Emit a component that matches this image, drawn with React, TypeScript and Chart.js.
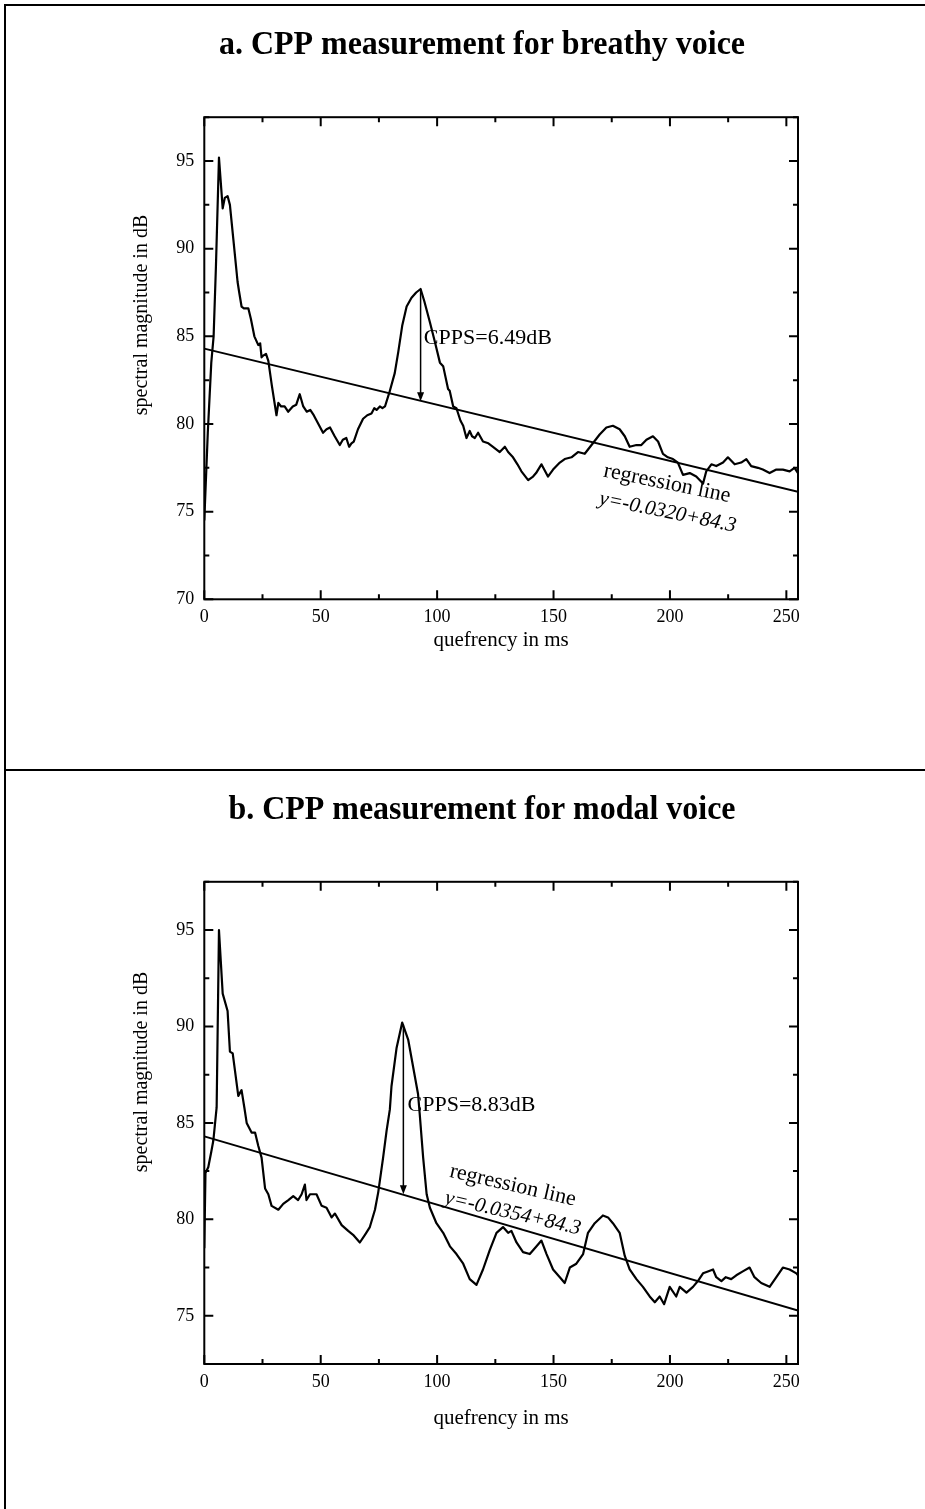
import { useEffect, useRef } from "react";
import { Chart, registerables } from "chart.js";

Chart.register(...registerables);

const FONT = "'Liberation Serif', 'Times New Roman', serif";

// ---------- data ----------
const xTickLabels = [0, 50, 100, 150, 200, 250];
const yTickLabelsA = [70, 75, 80, 85, 90, 95];
const yTickLabelsB = [75, 80, 85, 90, 95];

const breathyQuefrency = [
  0, 1.5, 3, 4, 5, 6.3, 7.9, 8.8, 10, 11, 12.5, 14.3, 15, 16, 17, 18.9, 20, 21.5, 23.2, 24, 24.6, 25.3, 26.5,
  27.5, 29, 31, 31.8, 33, 34.5, 36, 38, 39.5, 41, 42.5, 44, 45.5, 47, 49, 51, 52.5, 54, 56, 58.2, 59.5, 61, 62.2,
  63.2, 64.2, 66, 68.2, 70, 71.8, 73, 74, 75.4, 76.5, 77.6, 79.5, 81.8, 83.3, 85, 86.9, 89, 91, 92.9, 94.5, 96.9,
  99, 101.2, 102.6, 104.7, 105.4, 106.9, 108.3, 110, 111.2, 112.6, 114, 115, 116.2, 117.6, 119.7, 122, 124,
  126.9, 129.1, 130.5, 132.6, 134.5, 136.2, 139.1, 141.2, 142.5, 144.8, 147.6, 149.8, 152.7, 154.8, 157.7,
  160.5, 163.4, 166.9, 169.8, 172.7, 175.5, 178.4, 180.6, 182.7, 185.6, 187.7, 189.9, 192.7, 194.9, 197,
  199.1, 201.3, 203.4, 205.6, 208.5, 211.3, 214.2, 215.6, 217.8, 219.9, 222.8, 224.9, 227.8, 230.6, 232.8,
  234.9, 237.8, 239.9, 242.8, 245.7, 248.5, 251.4, 253.5, 255,
];
const breathyMagnitude = [
  74.5, 79.5, 83.5, 85.0, 89, 95.2, 92.3, 92.9, 93.0, 92.5, 90.5, 88.1, 87.5, 86.7, 86.6, 86.6, 86, 85.0, 84.5,
  84.6, 83.8, 83.9, 84.0, 83.6, 82.2, 80.5, 81.2, 81.0, 81.0, 80.7, 81.0, 81.1, 81.7, 81.0, 80.7, 80.8, 80.5,
  80.0, 79.5, 79.7, 79.8, 79.3, 78.8, 79.1, 79.2, 78.7, 78.9, 79.0, 79.7, 80.3, 80.5, 80.6, 80.9, 80.8, 81.0,
  80.9, 81.0, 81.8, 82.9, 84.1, 85.6, 86.7, 87.2, 87.5, 87.7, 87.0, 85.8, 84.7, 83.5, 83.3, 82.0, 81.9, 81.0,
  80.9, 80.2, 79.9, 79.2, 79.6, 79.3, 79.2, 79.5, 79.0, 78.9, 78.7, 78.4, 78.7, 78.4, 78.1, 77.7, 77.3, 76.8,
  77.0, 77.2, 77.7, 77.0, 77.4, 77.8, 78.0, 78.1, 78.4, 78.3, 78.9, 79.4, 79.8, 79.9, 79.7, 79.3, 78.7, 78.8,
  78.8, 79.1, 79.3, 79.0, 78.3, 78.1, 78.0, 77.8, 77.1, 77.2, 77.0, 76.6, 77.3, 77.7, 77.6, 77.8, 78.1, 77.7,
  77.8, 78.0, 77.6, 77.5, 77.4, 77.2, 77.4, 77.4, 77.3, 77.5, 77.2,
];

const modalQuefrency = [
  0, 0.5, 1.7, 3, 3.9, 5.3, 6.3, 7.9, 10, 11, 12.2, 14.6, 16, 17.2, 18.2, 20.3, 21.8, 23.2, 24.6, 26.1, 27.5,
  28.9, 31.8, 33.9, 36.1, 38.2, 40.3, 41.8, 43.2, 43.9, 45.4, 48.2, 50.4, 52.5, 54.7, 56.1, 59, 61.8, 63.9,
  66.8, 69, 71.1, 73.3, 74.7, 76.8, 78.3, 79.7, 80.4, 82.6, 85, 87.6, 89.7, 91.8, 92.5, 94, 95.5, 96.9, 99.7,
  102.6, 105.5, 108.3, 111.2, 114, 116.9, 119.7, 122.6, 125.5, 128.3, 130.5, 131.9, 134.1, 136.9, 139.8,
  142.7, 144.8, 147, 149.8, 152.7, 154.8, 157, 159.8, 162.7, 164.8, 167.7, 171.2, 173.4, 175.5, 178.4, 180.6,
  182.7, 185.6, 188.4, 191.3, 193.5, 195.6, 197.5, 199.9, 202.7, 204.2, 207.1, 209.9, 212, 214.2, 216.3,
  218.5, 219.9, 222.1, 224, 226.3, 228.5, 231.3, 234.2, 236.3, 239.2, 242.8, 245.7, 248.5, 251.4, 254.3, 255,
];
const modalMagnitude = [
  78.5, 82.4, 82.7, 83.5, 84.1, 85.8, 95.0, 91.7, 90.8, 88.7, 88.6, 86.4, 86.7, 85.8, 85.0, 84.5, 84.5, 83.8,
  83.2, 81.6, 81.3, 80.7, 80.5, 80.8, 81.0, 81.2, 81.0, 81.3, 81.8, 81.0, 81.3, 81.3, 80.7, 80.6, 80.1, 80.3,
  79.7, 79.4, 79.2, 78.8, 79.2, 79.6, 80.5, 81.4, 83.2, 84.6, 85.7, 86.9, 88.9, 90.2, 89.3, 87.9, 86.5, 85.5,
  83.2, 81.3, 80.6, 79.8, 79.3, 78.6, 78.2, 77.7, 76.9, 76.6, 77.4, 78.4, 79.3, 79.6, 79.3, 79.4, 78.8, 78.3,
  78.2, 78.6, 78.9, 78.2, 77.4, 77.0, 76.7, 77.5, 77.7, 78.2, 79.3, 79.8, 80.2, 80.1, 79.8, 79.3, 78.1, 77.4,
  76.9, 76.5, 76.0, 75.7, 76.0, 75.6, 76.5, 76.0, 76.5, 76.2, 76.5, 76.8, 77.2, 77.3, 77.4, 77.0, 76.8, 77.0,
  76.9, 77.1, 77.3, 77.5, 77.0, 76.7, 76.5, 77.0, 77.5, 77.4, 77.2, 77.1,
];

// regression lines (end points at 0 and 255 ms)
const fitQuefrency = [0, 255];
const breathyFit = [84.3, 76.14];
const modalFit = [84.3, 75.27];

// CPPS arrows: [quefrency, peak dB, regression dB]
const breathyCpps = [92.9, 87.7, 81.3];
const modalCpps = [85.5, 90.1, 81.3];

// ---------- panels ----------
type Panel = {
  top: number;
  height: number;
  area: { top: number; left: number; right: number; bottom: number };
  yMin: number;
  yMax: number;
  yTicks: number[];
  title: string;
  titleY: number;
  yTitleY: number;
  xTitleOffset: number;
  q: number[];
  db: number[];
  fit: number[];
  cpps: number[];
  cppsText: string;
  cppsAt: [number, number];
  regText: string;
  regAt1: [number, number];
  regAt2: [number, number];
  regAngle: number;
};

const panels: Panel[] = [
  {
    top: 0,
    height: 770,
    area: { top: 117.2, left: 204.3, right: 798, bottom: 599.3 },
    yMin: 70,
    yMax: 97.5,
    yTicks: yTickLabelsA,
    title: "a. CPP measurement for breathy voice",
    titleY: 45,
    yTitleY: 315,
    xTitleOffset: 130,
    q: breathyQuefrency,
    db: breathyMagnitude,
    fit: breathyFit,
    cpps: breathyCpps,
    cppsText: "CPPS=6.49dB",
    cppsAt: [94.3, 84.9],
    regText: "y=-0.0320+84.3",
    regAt1: [198.8, 76.6],
    regAt2: [199, 74.95],
    regAngle: 11.5,
  },
  {
    top: 770,
    height: 739,
    area: { top: 111.8, left: 204.3, right: 798, bottom: 594 },
    yMin: 72.5,
    yMax: 97.5,
    yTicks: yTickLabelsB,
    title: "b. CPP measurement for modal voice",
    titleY: 40,
    yTitleY: 302,
    xTitleOffset: 91,
    q: modalQuefrency,
    db: modalMagnitude,
    fit: modalFit,
    cpps: modalCpps,
    cppsText: "CPPS=8.83dB",
    cppsAt: [87.3, 85.93],
    regText: "y=-0.0354+84.3",
    regAt1: [132.5, 81.75],
    regAt2: [132.5, 80.3],
    regAngle: 13,
  },
];

const W = 925;

const annotPlugin = {
  id: "annot",
  afterDatasetsDraw(chart: any, _args: any, opts: any) {
    const p: Panel = opts.panel;
    const { ctx, chartArea: a } = chart;
    const xs = chart.scales.x;
    const ys = chart.scales.y;
    ctx.save();
    ctx.strokeStyle = "#000";
    ctx.fillStyle = "#000";

    // frame
    ctx.lineWidth = 2;
    ctx.strokeRect(a.left, a.top, a.right - a.left, a.bottom - a.top);

    // inward ticks on all four sides
    ctx.beginPath();
    for (let v = 0; v <= xs.max + 0.001; v += 25) {
      const px = xs.getPixelForValue(v);
      const len = v % 50 === 0 ? 9 : 5;
      ctx.moveTo(px, a.bottom);
      ctx.lineTo(px, a.bottom - len);
      ctx.moveTo(px, a.top);
      ctx.lineTo(px, a.top + len);
    }
    for (let v = p.yMin; v <= p.yMax + 0.001; v += 2.5) {
      const py = ys.getPixelForValue(v);
      const len = v % 5 === 0 ? 9 : 5;
      ctx.moveTo(a.left, py);
      ctx.lineTo(a.left + len, py);
      ctx.moveTo(a.right, py);
      ctx.lineTo(a.right - len, py);
    }
    ctx.stroke();

    // CPPS arrow
    const ax = xs.getPixelForValue(p.cpps[0]);
    const ay1 = ys.getPixelForValue(p.cpps[1]);
    const ay2 = ys.getPixelForValue(p.cpps[2]);
    ctx.lineWidth = 1.5;
    ctx.beginPath();
    ctx.moveTo(ax, ay1);
    ctx.lineTo(ax, ay2 - 6);
    ctx.stroke();
    ctx.beginPath();
    ctx.moveTo(ax - 3.5, ay2 - 9);
    ctx.lineTo(ax + 3.5, ay2 - 9);
    ctx.lineTo(ax, ay2);
    ctx.closePath();
    ctx.fill();

    // CPPS label
    ctx.font = `22px ${FONT}`;
    ctx.textAlign = "left";
    ctx.textBaseline = "middle";
    ctx.fillText(p.cppsText, xs.getPixelForValue(p.cppsAt[0]), ys.getPixelForValue(p.cppsAt[1]));

    // regression labels
    const rot = (p.regAngle * Math.PI) / 180;
    ctx.textAlign = "center";
    ctx.save();
    ctx.translate(xs.getPixelForValue(p.regAt1[0]), ys.getPixelForValue(p.regAt1[1]));
    ctx.rotate(rot);
    ctx.font = `22px ${FONT}`;
    ctx.fillText("regression line", 0, 0);
    ctx.restore();
    ctx.save();
    ctx.translate(xs.getPixelForValue(p.regAt2[0]), ys.getPixelForValue(p.regAt2[1]));
    ctx.rotate(rot);
    ctx.font = `italic 21px ${FONT}`;
    ctx.fillText(p.regText, 0, 0);
    ctx.restore();

    // main title (slightly condensed, as in the reference)
    ctx.save();
    ctx.translate(482, p.titleY);
    ctx.scale(0.94, 1);
    ctx.font = `bold 34px ${FONT}`;
    ctx.textAlign = "center";
    ctx.fillText(p.title, 0, 0);
    ctx.restore();

    // y axis title
    ctx.save();
    ctx.translate(141.7, p.yTitleY);
    ctx.rotate(-Math.PI / 2);
    ctx.font = `20px ${FONT}`;
    ctx.textAlign = "center";
    ctx.fillText("spectral magnitude in dB", 0, 0);
    ctx.restore();

    ctx.restore();
  },
};

function PanelChart({ p }: { p: Panel }) {
  const ref = useRef<HTMLCanvasElement>(null);
  useEffect(() => {
    const canvas = ref.current!;
    const points = p.q.map((q, i) => ({ x: q, y: p.db[i] }));
    const fitPts = fitQuefrency.map((q, i) => ({ x: q, y: p.fit[i] }));
    const chart = new Chart(canvas, {
      type: "line",
      data: {
        datasets: [
          {
            data: points,
            borderColor: "#000",
            borderWidth: 2.2,
            pointRadius: 0,
            tension: 0,
            fill: false,
            borderJoinStyle: "round",
          },
          {
            data: fitPts,
            borderColor: "#000",
            borderWidth: 2,
            pointRadius: 0,
            tension: 0,
            fill: false,
          },
        ],
      },
      options: {
        animation: false,
        responsive: false,
        devicePixelRatio: 1,
        events: [],
        layout: {
          padding: { top: p.area.top, right: W - p.area.right, left: 0, bottom: 0 },
        },
        plugins: {
          legend: { display: false },
          tooltip: { enabled: false },
          title: { display: false },
          annot: { panel: p },
        } as any,
        scales: {
          x: {
            type: "linear",
            min: 0,
            max: 255,
            grid: { display: false, drawTicks: false },
            border: { display: false },
            afterBuildTicks: (s: any) => {
              s.ticks = xTickLabels.map((v) => ({ value: v }));
            },
            afterFit: (s: any) => {
              s.height = p.height - p.area.bottom;
            },
            ticks: {
              autoSkip: false,
              maxRotation: 0,
              padding: 7,
              color: "#000",
              font: { family: FONT, size: 18 },
            },
            title: {
              display: true,
              text: "quefrency in ms",
              color: "#000",
              font: { family: FONT, size: 21 },
              padding: { top: 0, bottom: p.xTitleOffset - 12.6 },
            },
          },
          y: {
            type: "linear",
            min: p.yMin,
            max: p.yMax,
            grid: { display: false, drawTicks: false },
            border: { display: false },
            afterBuildTicks: (s: any) => {
              s.ticks = p.yTicks.map((v) => ({ value: v }));
            },
            afterFit: (s: any) => {
              s.width = p.area.left;
            },
            ticks: {
              autoSkip: false,
              padding: 10,
              color: "#000",
              font: { family: FONT, size: 18 },
            },
          },
        },
      } as any,
      plugins: [annotPlugin],
    });
    return () => chart.destroy();
  }, [p]);
  return (
    <canvas
      ref={ref}
      width={W}
      height={p.height}
      style={{ position: "absolute", left: 0, top: p.top, width: W, height: p.height, display: "block" }}
    />
  );
}

export default function App() {
  return (
    <div
      style={{
        position: "absolute",
        left: 0,
        top: 0,
        width: W,
        height: 1509,
        background: "#fff",
        overflow: "hidden",
      }}
    >
      {panels.map((p, i) => (
        <PanelChart key={i} p={p} />
      ))}
      <div style={{ position: "absolute", left: 4, top: 4, width: 2, height: 1505, background: "#000" }} />
      <div style={{ position: "absolute", left: 4, top: 4, width: W - 4, height: 2, background: "#000" }} />
      <div style={{ position: "absolute", left: 4, top: 769, width: W - 4, height: 2, background: "#000" }} />
    </div>
  );
}
